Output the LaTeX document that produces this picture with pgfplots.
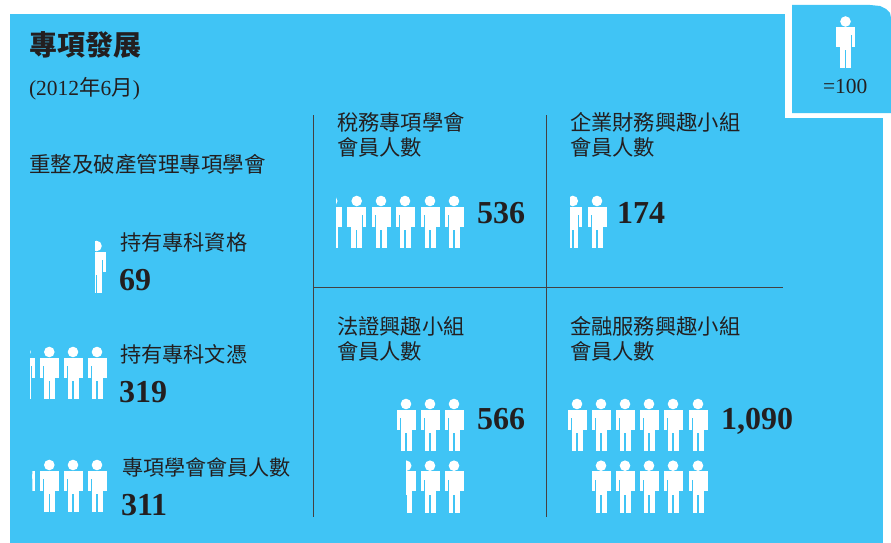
\documentclass[border=0pt]{standalone}
\usepackage{pgfplots}
\pgfplotsset{compat=1.18}
\usepackage{fontspec}
\setmainfont{Liberation Serif}
\newfontfamily\cjk{Noto Sans CJK TC}
\definecolor{panel}{HTML}{40C4F5}
\definecolor{ink}{HTML}{231F20}
\tikzset{lbl/.style={anchor=base west,text=ink,inner sep=0pt,outer sep=0pt}}
\newcommand\prect[4]{% x1 d1 x2 d2 (d = distance below head centre)
  \pgfpathmoveto{\pgfqpoint{#1pt}{-#2pt}}%
  \pgfpathlineto{\pgfqpoint{#3pt}{-#2pt}}%
  \pgfpathlineto{\pgfqpoint{#3pt}{-#4pt}}%
  \pgfpathlineto{\pgfqpoint{#1pt}{-#4pt}}%
  \pgfpathclose}
\newcommand\personbody{%
  \pgfsetfillcolor{white}%
  \pgfpathcircle{\pgfqpoint{0pt}{0pt}}{5.3pt}%
  \pgfusepathqfill
  \begin{pgfscope}\pgfsetcornersarced{\pgfqpoint{1.5pt}{1.5pt}}%
  \prect{-9.5}{5.7}{9.5}{14}\pgfusepathqfill
  \prect{-9.5}{10}{-6.0}{25.7}\pgfusepathqfill
  \prect{6.0}{10}{9.5}{25.7}\pgfusepathqfill
  \prect{-5.5}{24}{-0.7}{46.8}\pgfusepathqfill
  \prect{0.7}{24}{5.5}{46.8}\pgfusepathqfill
  \end{pgfscope}
  \prect{-5.5}{9}{5.5}{29}\pgfusepathqfill
  \prect{-9.5}{9}{-5.4}{13}\pgfusepathqfill
  \prect{5.4}{9}{9.5}{13}\pgfusepathqfill
}
\newcommand\personclip[2]{%
  \pgfdeclareplotmark{#1}{%
    \begin{pgfscope}%
    \pgfpathrectanglecorners{\pgfqpoint{#2pt}{-50pt}}{\pgfqpoint{12pt}{8pt}}%
    \pgfusepathqclip
    \personbody
    \end{pgfscope}}}
\pgfdeclareplotmark{person}{\personbody}
\personclip{pA}{-1.5}   % 69
\personclip{pB}{4.5}    % 319
\personclip{pC}{6.8}    % 311
\personclip{pD}{3.8}    % 536
\personclip{pE}{-2.8}   % 174
\personclip{pF}{-0.2}   % 566
\newcommand\zh[2]{{\fontsize{#1}{#1}\selectfont\cjk #2}}
\newcommand\num[1]{{\fontsize{32}{32}\selectfont\bfseries #1}}
\begin{document}
\begin{tikzpicture}
\begin{axis}[
  width=891pt,height=543pt,scale only axis,
  xmin=0,xmax=891,ymin=0,ymax=543,y dir=reverse,
  axis lines=none,clip=true,
]
% canvas and panels
\addplot[fill=white,draw=none] coordinates {(0,0) (891,0) (891,543) (0,543)} --cycle;
\addplot[fill=panel,draw=none] coordinates {(10,14) (883,14) (883,543) (10,543)} --cycle;
\addplot[fill=white,draw=none] coordinates {(785,0) (891,0) (891,118) (785,118)} --cycle;
\addplot[fill=panel,draw=none] coordinates {(792,5) (870,5) (880,6) (886,9) (890,13) (891,18) (891,113) (792,113)} --cycle;
% dividers
\addplot[ink!85,line width=1pt] coordinates {(313.5,115) (313.5,517)};
\addplot[ink!85,line width=1pt] coordinates {(546.7,115) (546.7,517)};
\addplot[ink!85,line width=1pt] coordinates {(313.5,287.5) (783,287.5)};
% key
\addplot[only marks,mark=person] coordinates {(845.5,21.5)};
% full figures
\addplot[only marks,mark=person] coordinates {(49.3,352) (73,352) (97,352)};
\addplot[only marks,mark=person] coordinates {(49.3,465) (73,465) (97,465)};
\addplot[only marks,mark=person] coordinates {(356.7,201) (381,201) (405,201) (430,201) (454,201)};
\addplot[only marks,mark=person] coordinates {(597,201)};
\addplot[only marks,mark=person] coordinates {(406,404) (430,404) (454,404) (430,465.7) (454,465.7)};
\addplot[only marks,mark=person] coordinates {(577,404) (601,404) (625,404) (649,404) (673,404) (698,404) (601,465.7) (625,465.7) (649,465.7) (673,465.7) (698,465.7)};
% partial figures
\addplot[only marks,mark=pA] coordinates {(96.5,246)};
\addplot[only marks,mark=pB] coordinates {(25.5,352)};
\addplot[only marks,mark=pC] coordinates {(25.5,465)};
\addplot[only marks,mark=pD] coordinates {(332.2,201)};
\addplot[only marks,mark=pE] coordinates {(572.8,201)};
\addplot[only marks,mark=pF] coordinates {(406.2,465.7)};
% text
\node[lbl] at (axis cs:29,55.5) {\zh{28}{\bfseries 專項發展}};
\node[lbl] at (axis cs:29,95) {{\fontsize{21.5}{21.5}\selectfont (2012\cjk 年\rmfamily 6\cjk 月\rmfamily )}};
\node[lbl] at (axis cs:29,172.5) {\zh{21.5}{重整及破產管理專項學會}};
\node[lbl] at (axis cs:120,250.5) {\zh{21.2}{持有專科資格}};
\node[lbl] at (axis cs:119,290) {\num{69}};
\node[lbl] at (axis cs:120,362) {\zh{21.2}{持有專科文憑}};
\node[lbl] at (axis cs:119,402) {\num{319}};
\node[lbl] at (axis cs:122,475) {\zh{21.1}{專項學會會員人數}};
\node[lbl] at (axis cs:121,515) {\num{311}};
\node[lbl] at (axis cs:337,130) {\zh{21.3}{稅務專項學會}};
\node[lbl] at (axis cs:337,155) {\zh{21.3}{會員人數}};
\node[lbl] at (axis cs:477,223) {\num{536}};
\node[lbl] at (axis cs:570,130) {\zh{21.3}{企業財務興趣小組}};
\node[lbl] at (axis cs:570,155) {\zh{21.3}{會員人數}};
\node[lbl] at (axis cs:617,223) {\num{174}};
\node[lbl] at (axis cs:337,334) {\zh{21.3}{法證興趣小組}};
\node[lbl] at (axis cs:337,359) {\zh{21.3}{會員人數}};
\node[lbl] at (axis cs:477,429) {\num{566}};
\node[lbl] at (axis cs:570,334) {\zh{21.3}{金融服務興趣小組}};
\node[lbl] at (axis cs:570,359) {\zh{21.3}{會員人數}};
\node[lbl] at (axis cs:721,429) {\num{1,090}};
\node[lbl] at (axis cs:823,93) {{\fontsize{21.5}{21.5}\selectfont =100}};
\end{axis}
\end{tikzpicture}
\end{document}
